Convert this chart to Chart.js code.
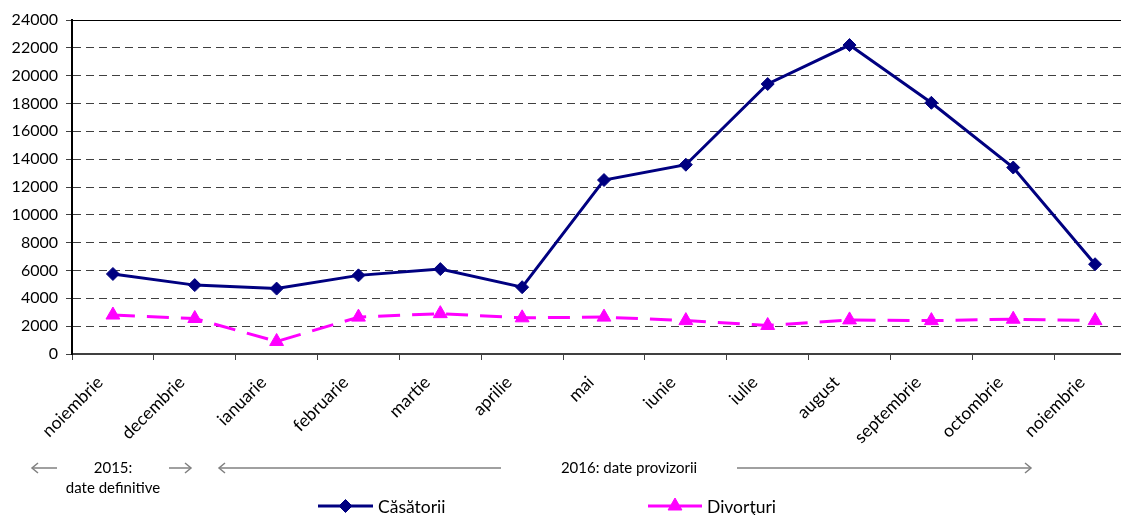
<!DOCTYPE html>
<html><head><meta charset="utf-8">
<script src="https://cdn.jsdelivr.net/npm/chart.js@4/dist/chart.umd.min.js"></script>
<style>html,body{margin:0;padding:0;background:#fff;overflow:hidden;width:1121px;height:515px}canvas{display:block}</style>
</head><body>
<canvas id="c" width="1145" height="515"></canvas>
<script>
const categories = ['noiembrie','decembrie','ianuarie','februarie','martie','aprilie','mai','iunie','iulie','august','septembrie','octombrie','noiembrie'];
const casatorii = [5750,4950,4700,5650,6100,4800,12500,13600,19400,22200,18050,13400,6450];
const divorturi = [2800,2550,900,2650,2900,2600,2650,2400,2050,2450,2400,2500,2400];
const seriesNames = ['Căsătorii','Divorţuri'];
const yMin = 0, yMax = 24000, yStep = 2000;
const annotationTexts = ['2015:','date definitive','2016: date provizorii'];

const FONT = 'Lato';
const NAVY = '#000080', MAG = '#FF00FF';

const extras = {
  id: 'extras',
  afterDraw(chart) {
    const ctx = chart.ctx, ca = chart.chartArea;
    ctx.save();
    const yTop = chart.scales.y.getPixelForValue(yMax);
    ctx.strokeStyle = '#000'; ctx.lineWidth = 1; ctx.setLineDash([]);
    ctx.beginPath(); ctx.moveTo(ca.left, yTop + 0.5); ctx.lineTo(ca.right, yTop + 0.5); ctx.stroke();

    const ay = 468;
    ctx.strokeStyle = '#808080'; ctx.lineWidth = 1.5;
    function arrow(x1, x2, headAt) {
      ctx.beginPath(); ctx.moveTo(x1, ay); ctx.lineTo(x2, ay); ctx.stroke();
      const hx = headAt === 'left' ? x1 : x2;
      const d = headAt === 'left' ? 1 : -1;
      ctx.beginPath(); ctx.moveTo(hx + d*6, ay - 5); ctx.lineTo(hx, ay); ctx.lineTo(hx + d*6, ay + 5); ctx.stroke();
    }
    arrow(32, 57, 'left');
    arrow(169, 191, 'right');
    arrow(219, 501, 'left');
    arrow(737, 1031, 'right');
    ctx.fillStyle = '#000'; ctx.textAlign = 'center'; ctx.textBaseline = 'middle';
    ctx.font = '15px ' + FONT;
    ctx.fillText(annotationTexts[0], 113, ay);
    ctx.fillText(annotationTexts[1], 113, 488);
    ctx.fillText(annotationTexts[2], 629, ay);

    const ly = 506;
    const items = [
      {x1: 318, x2: 373, ds: chart.data.datasets[0]},
      {x1: 648, x2: 702, ds: chart.data.datasets[1]}
    ];
    items.forEach((it, i) => {
      ctx.strokeStyle = it.ds.borderColor; ctx.lineWidth = 3; ctx.setLineDash([]);
      ctx.beginPath(); ctx.moveTo(it.x1, ly); ctx.lineTo(it.x2, ly); ctx.stroke();
      ctx.fillStyle = it.ds.borderColor; ctx.strokeStyle = it.ds.borderColor; ctx.lineWidth = 1;
      Chart.helpers.drawPoint(ctx, {pointStyle: it.ds.pointStyle, radius: it.ds.pointRadius, borderWidth: 1, rotation: 0}, (it.x1 + it.x2) / 2, ly);
      ctx.fillStyle = '#000';
      ctx.textAlign = 'left'; ctx.textBaseline = 'middle';
      ctx.font = '17.5px ' + FONT;
      ctx.fillText(seriesNames[i], it.x2 + 5, ly + 1);
    });
    ctx.restore();
  }
};

new Chart(document.getElementById('c'), {
  type: 'line',
  data: {
    labels: categories,
    datasets: [
      {label: seriesNames[0], data: casatorii, borderColor: NAVY, backgroundColor: NAVY,
       borderWidth: 3, pointStyle: 'rectRot', pointRadius: 6.5, pointBorderWidth: 1,
       pointBackgroundColor: NAVY, pointBorderColor: NAVY, tension: 0},
      {label: seriesNames[1], data: divorturi, borderColor: MAG, backgroundColor: MAG,
       borderWidth: 3, borderDash: [22, 12], pointStyle: 'triangle', pointRadius: 8, pointBorderWidth: 1,
       pointBackgroundColor: MAG, pointBorderColor: MAG, tension: 0}
    ]
  },
  options: {
    responsive: false,
    animation: false,
    layout: {padding: {top: 20, right: 0, bottom: 0, left: 0}},
    plugins: {legend: {display: false}, tooltip: {enabled: false}},
    scales: {
      x: {
        offset: true,
        grid: {display: true, drawOnChartArea: false, drawTicks: true, tickLength: 6, offset: true, color: '#404040', lineWidth: 1},
        border: {display: true, color: '#404040', width: 2},
        ticks: {color: '#000', font: {family: FONT, size: 17.5}, minRotation: 45, maxRotation: 45, padding: 12, labelOffset: -13, autoSkip: false},
        afterFit(s) { s.height = 161; }
      },
      y: {
        min: yMin, max: yMax,
        grid: {color: '#404040', lineWidth: 1, tickLength: 6, tickBorderDash: [1, 0], drawTicks: true},
        border: {display: true, color: '#000', width: 2, dash: [8, 5]},
        ticks: {stepSize: yStep, color: '#000', font: {family: FONT, size: 16}, padding: 8,
                callback: v => String(v)},
        afterFit(s) { s.width = 72; }
      }
    }
  },
  plugins: [extras]
});
</script>
</body></html>
